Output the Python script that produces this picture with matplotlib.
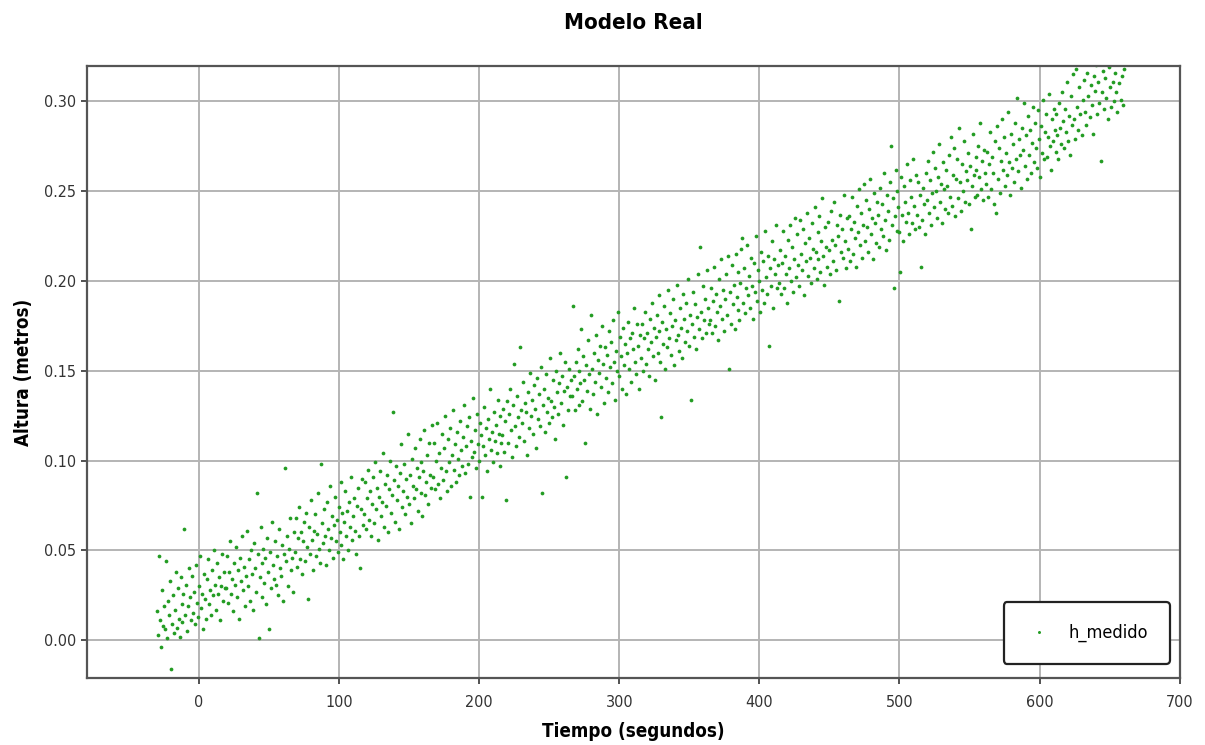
import numpy as np
import matplotlib.pyplot as plt

# instante inicial / final de la medida (segundos)
t_inicio = -30.0
t_fin = 660.0

h_mm_0 = [16, 3, 47, 11, -4, 28, 8, 19, 6, 44, 1, 22, 14, 33, -16, 9, 25, 4, 17, 38,
          7, 29, 12, 2, 35, 20, 10, 26, 62, 14, 31, 5, 19, 40, 24, 11, 36, 15, 27, 9,
          42, 21, 13, 30, 47, 18, 26, 6, 37, 23, 12, 34, 45, 20, 28, 14, 39, 25, 50, 31,
          17, 43, 26, 35, 11, 30, 48, 22, 38, 29]
h_mm_1 = [29, 47, 21, 38, 55, 26, 34, 16, 43, 31, 52, 24, 39, 12, 46, 33, 58, 28, 41, 19,
          36, 61, 30, 45, 22, 50, 37, 17, 54, 40, 27, 82, 48, 1, 35, 63, 43, 24, 51, 32,
          46, 20, 57, 38, 6, 49, 29, 66, 42, 34, 55, 31, 47, 25, 62, 40, 36, 53, 22, 48,
          96, 44, 58, 30, 51, 68, 39, 46, 27, 60]
h_mm_2 = [49, 68, 41, 57, 74, 45, 60, 37, 55, 66, 44, 71, 52, 23, 63, 48, 78, 56, 39, 61,
          70, 47, 59, 82, 51, 43, 98, 65, 54, 73, 58, 42, 77, 62, 50, 86, 57, 69, 46, 64,
          80, 55, 67, 49, 74, 60, 88, 53, 71, 45, 66, 83, 58, 72, 50, 77, 63, 91, 56, 69,
          79, 61, 48, 75, 85, 58, 40, 73, 90, 64]
h_mm_3 = [70, 88, 62, 79, 95, 67, 83, 58, 76, 91, 65, 99, 73, 85, 56, 80, 94, 69, 77, 104,
          63, 87, 75, 92, 60, 84, 100, 71, 81, 127, 89, 66, 97, 78, 86, 62, 93, 109, 74, 83,
          98, 70, 90, 80, 115, 76, 92, 65, 101, 86, 79, 107, 84, 96, 72, 91, 112, 82, 99, 69,
          94, 117, 81, 88, 103, 76, 110, 92, 85, 120]
h_mm_4 = [91, 110, 84, 100, 121, 87, 104, 79, 96, 115, 89, 107, 125, 94, 83, 112, 99, 118, 86, 103,
          128, 95, 109, 88, 116, 101, 92, 122, 106, 97, 113, 131, 93, 108, 119, 98, 124, 80, 111, 102,
          135, 105, 117, 96, 126, 109, 100, 121, 114, 80, 108, 130, 103, 118, 94, 123, 112, 140, 106, 116,
          99, 127, 111, 120, 104, 134, 115, 97, 125, 110]
h_mm_5 = [114, 129, 105, 122, 78, 133, 110, 126, 140, 117, 102, 131, 154, 119, 108, 136, 124, 113, 163, 128,
          121, 144, 111, 132, 127, 103, 138, 118, 149, 125, 134, 115, 142, 129, 107, 146, 123, 137, 119, 152,
          82, 131, 140, 116, 148, 127, 135, 121, 157, 133, 124, 145, 130, 112, 150, 138, 126, 143, 160, 132,
          147, 120, 139, 155, 91, 141, 128, 151, 136, 145]
h_mm_6 = [136, 186, 147, 128, 155, 140, 162, 131, 150, 143, 173, 133, 158, 145, 110, 153, 139, 167, 148, 129,
          181, 151, 137, 160, 144, 170, 126, 156, 149, 164, 141, 175, 154, 132, 163, 146, 159, 138, 172, 152,
          166, 143, 178, 155, 134, 161, 150, 183, 147, 169, 158, 140, 174, 153, 165, 137, 160, 177, 151, 168,
          144, 171, 162, 185, 155, 148, 176, 164, 140, 170]
h_mm_7 = [157, 176, 150, 168, 183, 154, 171, 162, 147, 179, 166, 188, 158, 174, 145, 169, 181, 160, 192, 172,
          155, 124, 177, 165, 186, 151, 173, 163, 195, 168, 182, 159, 175, 190, 153, 178, 167, 198, 170, 161,
          185, 174, 157, 193, 179, 166, 188, 172, 201, 164, 181, 134, 176, 194, 169, 187, 162, 180, 204, 173,
          219, 183, 168, 197, 178, 190, 171, 206, 185, 176]
h_mm_8 = [178, 196, 171, 189, 208, 175, 193, 183, 167, 201, 186, 212, 179, 195, 172, 190, 204, 181, 214, 151,
          194, 176, 209, 187, 198, 173, 215, 191, 184, 205, 178, 199, 218, 224, 188, 207, 182, 196, 220, 192,
          203, 185, 213, 197, 179, 210, 194, 225, 189, 206, 200, 183, 216, 195, 211, 188, 228, 202, 193, 214,
          164, 207, 197, 222, 185, 212, 204, 231, 196, 209]
h_mm_9 = [199, 217, 193, 210, 228, 196, 214, 204, 188, 223, 207, 231, 200, 219, 194, 212, 235, 202, 226, 209,
          197, 234, 215, 206, 229, 192, 221, 211, 238, 203, 224, 213, 199, 232, 218, 207, 241, 216, 201, 227,
          212, 236, 205, 222, 246, 214, 198, 230, 219, 208, 233, 217, 204, 239, 223, 211, 244, 220, 206, 231,
          225, 189, 237, 216, 229, 213, 248, 222, 207, 235]
h_mm_10 = [218, 236, 211, 229, 247, 215, 233, 224, 208, 242, 227, 251, 220, 238, 213, 231, 254, 222, 245, 230,
           216, 240, 257, 226, 235, 212, 249, 232, 221, 244, 237, 219, 252, 229, 243, 225, 260, 234, 217, 248,
           239, 223, 255, 275, 231, 246, 196, 236, 262, 228, 250, 241, 227, 205, 258, 237, 222, 253, 244, 233,
           265, 238, 226, 256, 247, 232, 268, 242, 229, 259]
h_mm_11 = [237, 255, 230, 248, 208, 234, 252, 243, 226, 260, 245, 267, 238, 256, 231, 249, 272, 241, 263, 250,
           235, 258, 276, 244, 254, 232, 266, 251, 240, 262, 253, 238, 270, 247, 280, 242, 259, 274, 236, 257,
           268, 246, 285, 255, 239, 265, 250, 278, 244, 261, 256, 271, 243, 264, 229, 253, 282, 259, 247, 269,
           262, 248, 275, 258, 288, 251, 267, 245, 273, 260]
h_mm_12 = [254, 272, 247, 265, 283, 251, 269, 260, 243, 278, 238, 286, 257, 274, 249, 267, 290, 262, 280, 253,
           271, 259, 294, 266, 248, 282, 263, 276, 255, 288, 268, 302, 261, 279, 270, 252, 285, 273, 299, 264,
           281, 257, 292, 270, 284, 260, 277, 297, 266, 288, 274, 263, 295, 279, 258, 286, 271, 301, 268, 283,
           293, 269, 280, 304, 275, 262, 290, 278, 296, 284]
h_mm_13 = [272, 293, 281, 268, 299, 285, 276, 305, 289, 274, 296, 283, 311, 278, 292, 270, 303, 287, 315, 290,
           279, 318, 297, 284, 308, 293, 322, 281, 301, 312, 294, 287, 316, 303, 325, 291, 309, 298, 282, 314,
           306, 320, 293, 311, 299, 326, 267, 305, 317, 296, 313, 302, 328, 290, 319, 308, 297, 323, 311, 300,
           316, 305, 294, 321, 310, 327, 301, 314, 298, 318]

h_medido = np.array(h_mm_0 + h_mm_1 + h_mm_2 + h_mm_3 + h_mm_4 + h_mm_5 + h_mm_6
                    + h_mm_7 + h_mm_8 + h_mm_9 + h_mm_10 + h_mm_11 + h_mm_12 + h_mm_13) / 1000.0
# muestreo uniforme en el tiempo
tiempo = np.linspace(t_inicio, t_fin, len(h_medido))

plt.rcParams['font.family'] = 'DejaVu Sans'
plt.rcParams['font.stretch'] = 'condensed'

fig = plt.figure(figsize=(12.05, 7.45), dpi=100)
ax = fig.add_axes([0.072, 0.09, 0.907, 0.821])

ax.plot(tiempo, h_medido, 'o', color='#239c23', markersize=2.7, markeredgewidth=0,
        label='h_medido')

ax.set_xlim(-80, 700)
ax.set_ylim(-0.021, 0.3195)
ax.set_xticks(np.arange(0, 701, 100))
ax.set_yticks(np.arange(0, 0.301, 0.05))
ax.yaxis.set_major_formatter(plt.FormatStrFormatter('%.2f'))

ax.grid(True, color='#b4b4b4', linewidth=1.4)
ax.set_axisbelow(True)
for s in ax.spines.values():
    s.set_color('#555555')
    s.set_linewidth(1.6)
ax.tick_params(labelsize=11.5, colors='#333333', length=4, width=1.2)
ax.tick_params(axis='x', pad=8)

ax.set_title('Modelo Real', fontsize=16, fontweight='bold', pad=27)
ax.set_xlabel('Tiempo (segundos)', fontsize=13.5, fontweight='bold', labelpad=9)
ax.set_ylabel('Altura (metros)', fontsize=13.5, fontweight='bold', labelpad=8)

leg = ax.legend(loc='lower right', bbox_to_anchor=(0.991, 0.023), borderaxespad=0,
                fontsize=13, markerscale=0.8, borderpad=1.2, handlelength=1.5,
                handletextpad=0.9, fancybox=True, framealpha=1)
leg.get_frame().set_edgecolor('#222222')
leg.get_frame().set_linewidth(1.6)

plt.savefig('out.png', dpi=100)
plt.close()
